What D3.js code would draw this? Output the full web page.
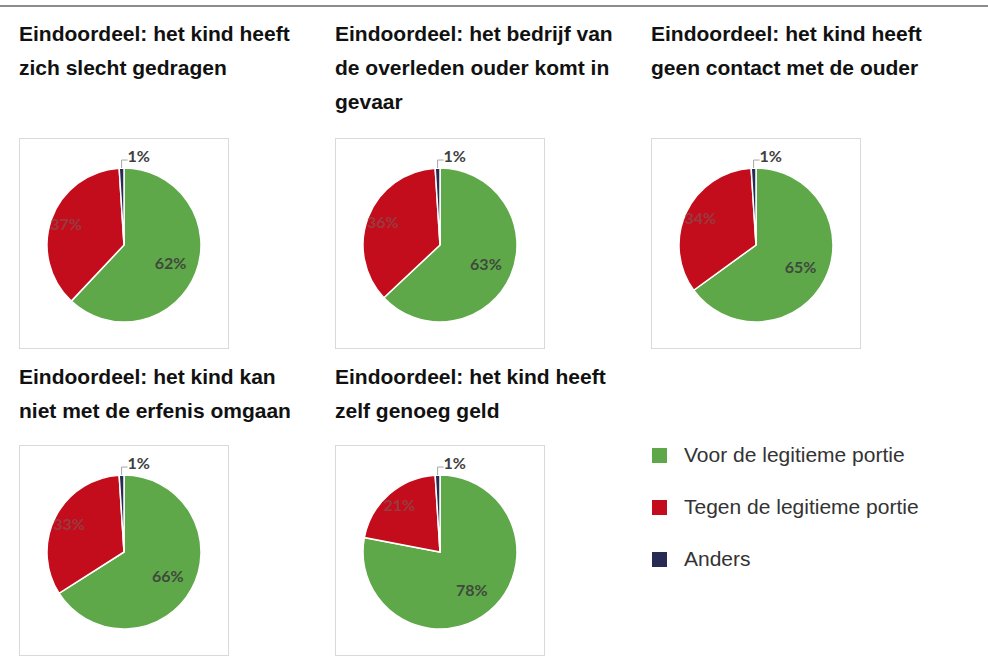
<!DOCTYPE html>
<html>
<head>
<meta charset="utf-8">
<script src="https://cdn.jsdelivr.net/npm/d3@7"></script>
<style>
	body { margin: 0; background: #fff; }
	svg { display: block; }
</style>
</head>
<body>
<svg width="988" height="661"></svg>
<script>
// chart data
var titles = [
	['Eindoordeel: het kind heeft', 'zich slecht gedragen'],
	['Eindoordeel: het bedrijf van', 'de overleden ouder komt in', 'gevaar'],
	['Eindoordeel: het kind heeft', 'geen contact met de ouder'],
	['Eindoordeel: het kind kan', 'niet met de erfenis omgaan'],
	['Eindoordeel: het kind heeft', 'zelf genoeg geld']
];
var categories = ['Voor de legitieme portie', 'Tegen de legitieme portie', 'Anders'];
var voor = [62, 63, 65, 66, 78];
var tegen = [37, 36, 34, 33, 21];
var anders = [1, 1, 1, 1, 1];
var colors = ['#5ea84a', '#c40d1c', '#272a52'];

var svg = d3.select('svg');
var width = 988;

// layout
var colX = [19, 335, 651];
var titleY = [41, 384];
var boxY = [138, 445];
var boxW = 209, boxH = 210;
var radius = 77;
var lineH = 34;

svg.append('line')
	.attr('x1', 0).attr('x2', width)
	.attr('y1', 6).attr('y2', 6)
	.style('stroke', '#666').style('stroke-width', 1.5);

var pie = d3.pie().sort(null).value(d => d);
var arc = d3.arc().innerRadius(0).outerRadius(radius);
var greenLabelArc = d3.arc().innerRadius(radius * 0.65).outerRadius(radius * 0.65);
var redLabelArc = d3.arc().innerRadius(radius * 0.8).outerRadius(radius * 0.8);

function pieLabel(g, x, y, color, txt){
	return g.append('text')
		.attr('x', x).attr('y', y)
		.style('font-family', 'Lato, "Open Sans", sans-serif')
		.style('font-weight', 'bold')
		.style('font-size', '16px')
		.style('fill', color)
		.text(txt);
}

titles.forEach(function(lines, i){
	var col = i % 3;
	var row = Math.floor(i / 3);
	var x = colX[col];

	var t = svg.append('text')
		.attr('x', x).attr('y', titleY[row])
		.style('font-family', '"Liberation Sans", Arial, sans-serif')
		.style('font-weight', 'bold')
		.style('font-size', '21px')
		.style('fill', '#111');
	lines.forEach(function(line, j){
		t.append('tspan').attr('x', x).attr('y', titleY[row] + j * lineH).text(line);
	});

	svg.append('rect')
		.attr('x', x + 0.5).attr('y', boxY[row] + 0.5)
		.attr('width', boxW).attr('height', boxH)
		.style('fill', '#fff').style('stroke', '#d9d9d9');

	var g = svg.append('g')
		.attr('transform', 'translate(' + (x + 105) + ',' + (boxY[row] + 107) + ')');

	var values = [voor[i], tegen[i], anders[i]];
	var slices = pie(values);

	g.selectAll('path').data(slices).enter().append('path')
		.attr('d', arc)
		.style('fill', (d, k) => colors[k])
		.style('stroke', '#fff').style('stroke-width', 1.5);

	// green label
	var pg = greenLabelArc.centroid(slices[0]);
	pieLabel(g, pg[0], pg[1], '#3f4a3c', voor[i] + '%')
		.attr('text-anchor', 'middle').attr('dy', '0.35em');

	// red label, barely visible on the red slice
	var pr = redLabelArc.centroid(slices[1]);
	pieLabel(g, pr[0], pr[1], '#9a3a3e', tegen[i] + '%')
		.attr('text-anchor', 'middle').attr('dy', '0.35em');

	// small slice label with leader line
	var a = (slices[2].startAngle + slices[2].endAngle) / 2;
	var ex = radius * Math.sin(a), ey = -radius * Math.cos(a);
	g.append('polyline')
		.attr('points', [[ex, ey], [ex, ey - 8], [ex + 6, ey - 8]].map(p => p.join(',')).join(' '))
		.style('fill', 'none').style('stroke', '#a6a6a6').style('stroke-width', 1);
	pieLabel(g, ex + 6, ey - 6, '#404040', anders[i] + '%');
});

// legend
var legend = svg.append('g').attr('transform', 'translate(652,448)');
categories.forEach(function(c, k){
	var row = legend.append('g').attr('transform', 'translate(0,' + (k * 52) + ')');
	row.append('rect').attr('width', 15).attr('height', 15).style('fill', colors[k]);
	row.append('text')
		.attr('x', 32).attr('y', 14)
		.style('font-family', '"Liberation Sans", Arial, sans-serif')
		.style('font-size', '21px')
		.style('fill', '#333')
		.text(c);
});
</script>
</body>
</html>
